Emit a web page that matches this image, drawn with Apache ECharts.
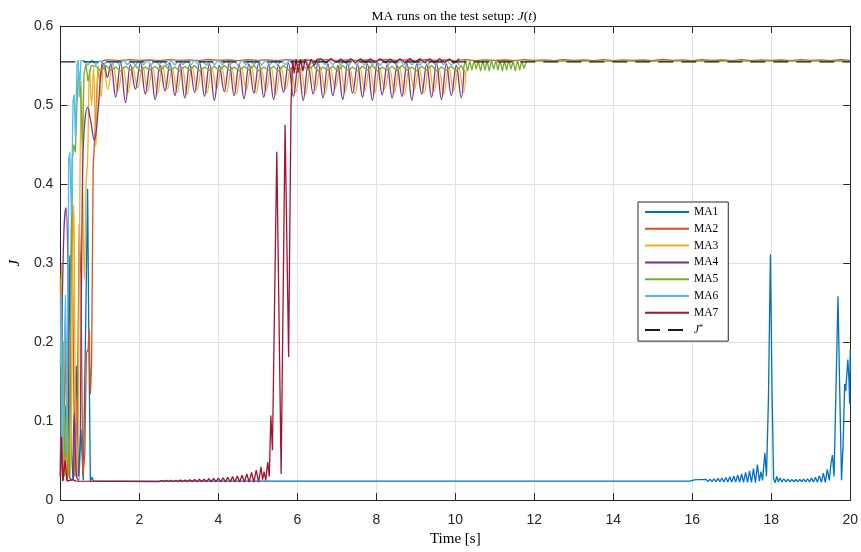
<!DOCTYPE html>
<html>
<head>
<meta charset="utf-8">
<title>MA runs on the test setup</title>
<script src="https://cdn.jsdelivr.net/npm/echarts@6/dist/echarts.min.js"></script>
<style>
  html, body { margin: 0; padding: 0; background: #ffffff; }
  #chart { width: 861px; height: 552px; }
</style>
</head>
<body>
<div id="chart"></div>
<script>
// ---- axis ticks ----
const xTicks = [0, 2, 4, 6, 8, 10, 12, 14, 16, 18, 20];
const yTicks = [0, 0.1, 0.2, 0.3, 0.4, 0.5, 0.6];

// ---- reference value J* ----
const J_STAR = 0.5546;

// ---- MA1: cost J(t) samples, [t, J] ----
const MA1_start = [[0,0.04],[0.03,0.24],[0.07,0.03],[0.12,0.12],[0.17,0.025],[0.24,0.31],[0.28,0.06],[0.33,0.025],[0.4,0.17],[0.46,0.03],[0.52,0.09],[0.58,0.025],[0.64,0.22],[0.69,0.394],[0.72,0.21],[0.76,0.024],[0.8,0.029],[0.84,0.024],[15.95,0.024]];
const MA1_ripple1 = { t0: 16.0, dt: 0.05, J: [0.024,0.0255,0.0235,0.0258,0.0235,0.026,0.0235,0.0263,0.0233,0.0266,0.0233,0.027,0.0232,0.0274,0.0232,0.028,0.023,0.0287,0.023,0.0295,0.0228,0.0305,0.0228,0.0315,0.0227,0.033,0.0226,0.035,0.0225,0.037,0.0224,0.04,0.0222,0.045,0.024] };
const MA1_spike1 = [[17.74,0.036],[17.78,0.025],[17.84,0.06],[17.88,0.03],[17.93,0.13],[17.98,0.311],[18.02,0.14],[18.06,0.027],[18.1,0.022],[18.14,0.03],[18.18,0.023]];
const MA1_ripple2 = { t0: 18.22, dt: 0.05, J: [0.028,0.023,0.027,0.023,0.0265,0.0232,0.0262,0.0232,0.026,0.0232,0.0262,0.0232,0.0265,0.023,0.027,0.023,0.0278,0.0228,0.029,0.0227,0.031,0.0225,0.034,0.0224,0.039,0.025] };
const MA1_end = [[19.51,0.045],[19.55,0.057],[19.59,0.03],[19.64,0.14],[19.69,0.258],[19.73,0.15],[19.78,0.025],[19.82,0.07],[19.86,0.147],[19.885,0.138],[19.94,0.178],[19.97,0.15],[19.985,0.122],[20,0.19]];

// ---- MA2 ----
const MA2_start = [[0,0.03],[0.04,0.13],[0.08,0.025],[0.13,0.22],[0.18,0.03],[0.24,0.12],[0.29,0.397],[0.33,0.18],[0.37,0.03],[0.43,0.12],[0.48,0.349],[0.52,0.28],[0.57,0.03],[0.62,0.06],[0.66,0.187],[0.7,0.19],[0.73,0.216],[0.76,0.134],[0.79,0.17],[0.83,0.42],[0.87,0.46],[0.91,0.5],[0.95,0.545],[1.0,0.53],[1.06,0.556],[1.15,0.5572]];
const MA2_steady = { t0: 1.25, dt: 0.25, J: [
  0.5572,0.5562,0.5575,0.5565,0.5570,0.5560,0.5574,0.5566,0.5571,0.5561,
  0.5576,0.5564,0.5570,0.5562,0.5573,0.5565,0.5571,0.5560,0.5575,0.5566,
  0.5570,0.5563,0.5574,0.5561,0.5572,0.5565,0.5570,0.5562,0.5576,0.5564,
  0.5571,0.5560,0.5573,0.5566,0.5570,0.5563,0.5575,0.5561,0.5572,0.5565,
  0.5570,0.5562,0.5574,0.5564,0.5571,0.5560,0.5573,0.5566,0.5570,0.5563,
  0.5575,0.5561,0.5572,0.5565,0.5570,0.5562,0.5576,0.5564,0.5571,0.5560,
  0.5573,0.5566,0.5570,0.5563,0.5574,0.5561,0.5572,0.5565,0.5570,0.5562,
  0.5575,0.5564,0.5571,0.5560,0.5573,0.5566] };

// ---- MA3 ----
const MA3_start = [[0,0.22],[0.03,0.3],[0.06,0.04],[0.1,0.12],[0.15,0.025],[0.21,0.15],[0.26,0.03],[0.31,0.3],[0.34,0.374],[0.38,0.12],[0.43,0.03],[0.48,0.3],[0.53,0.53],[0.57,0.38],[0.61,0.28],[0.65,0.4],[0.69,0.43],[0.74,0.545],[0.79,0.5],[0.84,0.548],[0.9,0.447],[0.96,0.55],[1.03,0.51],[1.1,0.552],[1.2,0.52],[1.33,0.552]];
const MA3_cycle = { t0: 1.46, dt: 0.125, J: [
  0.518,0.548,0.515,0.546,0.522,0.549,0.517,0.547,0.514,0.550,
  0.520,0.546,0.516,0.548,0.513,0.549,0.519,0.547,0.515,0.546,
  0.521,0.549,0.516,0.548,0.514,0.547,0.519,0.550,0.515,0.546,
  0.518,0.548,0.513,0.549,0.520,0.547,0.516,0.546,0.514,0.549,
  0.519,0.548,0.515,0.547,0.521,0.550,0.516,0.546,0.514,0.548,
  0.518,0.549,0.515,0.547,0.520,0.546,0.516,0.549,0.513,0.548,
  0.519,0.547,0.515,0.550,0.517,0.546,0.514,0.548,0.518,0.547,
  0.516] };
const MA3_end = [[10.27,0.545]];

// ---- MA4 ----
const MA4_start = [[0,0.03],[0.04,0.22],[0.09,0.34],[0.14,0.37],[0.19,0.3],[0.23,0.03],[0.29,0.025],[0.35,0.11],[0.41,0.03],[0.47,0.025],[0.53,0.25],[0.57,0.43],[0.62,0.48],[0.69,0.497],[0.76,0.482],[0.86,0.455],[0.95,0.49],[1.03,0.54],[1.1,0.553],[1.19,0.535],[1.275,0.552]];
const MA4_cycle = { t0: 1.40, dt: 0.125, J: [
  0.510,0.553,0.503,0.551,0.520,0.554,0.514,0.552,0.507,0.550,
  0.518,0.553,0.512,0.552,0.509,0.551,0.516,0.554,0.511,0.552,
  0.506,0.550,0.517,0.553,0.512,0.551,0.508,0.552,0.515,0.554,
  0.510,0.551,0.507,0.550,0.516,0.553,0.511,0.552,0.506,0.551,
  0.514,0.554,0.509,0.552,0.512,0.550,0.507,0.553,0.515,0.551,
  0.510,0.552,0.506,0.554,0.513,0.551,0.509,0.550,0.511,0.553,
  0.506,0.552,0.514,0.551,0.510,0.553,0.507,0.552,0.512,0.550,
  0.509] };
const MA4_end = [[10.22,0.545]];

// ---- MA5 ----
const MA5_start = [[0,0.28],[0.03,0.05],[0.07,0.2],[0.11,0.03],[0.17,0.12],[0.22,0.03],[0.27,0.29],[0.3,0.43],[0.34,0.45],[0.38,0.44],[0.42,0.5],[0.46,0.545],[0.51,0.52],[0.56,0.45],[0.6,0.54],[0.65,0.552],[0.7,0.53],[0.78,0.55]];
const MA5_cycle = { t0: 0.9, dt: 0.125, J: [
  0.549,0.543,0.550,0.544,0.548,0.543,0.549,0.544,0.550,0.543,
  0.548,0.544,0.549,0.543,0.550,0.544,0.548,0.543,0.549,0.544,
  0.550,0.543,0.548,0.544,0.549,0.543,0.550,0.544,0.548,0.543,
  0.549,0.544,0.550,0.543,0.548,0.544,0.549,0.543,0.550,0.544,
  0.548,0.543,0.549,0.544,0.550,0.543,0.548,0.544,0.549,0.543,
  0.550,0.544,0.548,0.543,0.549,0.544,0.550,0.543,0.548,0.544,
  0.549,0.543,0.550,0.544,0.548,0.543,0.549,0.544,0.550,0.543,
  0.548,0.544,0.549,0.543,0.550] };
const MA5_late = { t0: 10.2, dt: 0.055, J: [
  0.544,0.557,0.543,0.556,0.544,0.557,0.545,0.556,0.543,0.557,
  0.544,0.556,0.543,0.557,0.545,0.556,0.544,0.557,0.543,0.556,
  0.544,0.557,0.545,0.556,0.543,0.557,0.544,0.556,0.546] };
const MA5_end = [[11.8,0.5555],[20,0.5555]];

// ---- MA6 ----
const MA6_start = [[0,0.17],[0.02,0.26],[0.05,0.03],[0.09,0.18],[0.13,0.26],[0.17,0.06],[0.21,0.43],[0.24,0.44],[0.28,0.36],[0.32,0.505],[0.35,0.513],[0.38,0.46],[0.42,0.55],[0.45,0.557],[0.48,0.51],[0.52,0.556]];
const MA6_cycle = { t0: 0.6, dt: 0.1, J: [
  0.5565,0.5505,0.5570,0.5510,0.5562,0.5502,0.5568,0.5508,0.5565,0.5504,
  0.5570,0.5510,0.5563,0.5503,0.5567,0.5507,0.5565,0.5505,0.5569,0.5509,
  0.5562,0.5502,0.5566,0.5506,0.5570,0.5510,0.5564,0.5504,0.5567,0.5507,
  0.5563,0.5503,0.5569,0.5509,0.5565,0.5505,0.5568,0.5508,0.5562,0.5502,
  0.5566,0.5506,0.5570,0.5510,0.5564,0.5504,0.5567,0.5507,0.5563,0.5503,
  0.5569,0.5509,0.5565,0.5505,0.5568,0.5508,0.5562,0.5502,0.5566,0.5506,
  0.5570,0.5510,0.5564,0.5504,0.5567,0.5507,0.5563,0.5503,0.5569,0.5509,
  0.5565,0.5505,0.5568,0.5508,0.5562,0.5502,0.5566,0.5506,0.5570,0.5510,
  0.5564,0.5504,0.5567,0.5507,0.5563,0.5503,0.5569,0.5509,0.5565,0.5505,
  0.5568,0.5508,0.5562,0.5502,0.5566,0.5506] };

// ---- MA7 ----
const MA7_start = [[0,0.03],[0.03,0.08],[0.06,0.024],[0.12,0.05],[0.17,0.024],[0.3,0.026],[0.4,0.024],[2.44,0.0235]];
const MA7_ripple = { t0: 2.5, dt: 0.06, J: [
  0.0235,0.0248,0.0235,0.0249,0.0235,0.025,0.0235,0.0251,0.0234,0.0253,
  0.0234,0.0255,0.0234,0.0257,0.0234,0.026,0.0233,0.0263,0.0233,0.0266,
  0.0233,0.027,0.0232,0.0274,0.0232,0.0278,0.0231,0.0283,0.0231,0.029,
  0.023,0.0297,0.023,0.0305,0.0229,0.0315,0.0228,0.033,0.0227,0.035,
  0.0226,0.038,0.0228,0.042] };
const MA7_rise = [[5.12,0.026],[5.16,0.036],[5.2,0.025],[5.25,0.048],[5.29,0.03],[5.33,0.107],[5.37,0.063],[5.48,0.441],[5.59,0.033],[5.69,0.475],[5.78,0.181],[5.84,0.5],[5.88,0.557],[5.92,0.54],[5.97,0.558],[6.02,0.541],[6.08,0.558],[6.14,0.543],[6.2,0.558],[6.27,0.546],[6.35,0.558],[6.43,0.55],[6.5,0.558]];
const MA7_cycle = { t0: 6.6, dt: 0.125, J: [
  0.5585,0.5535,0.5588,0.5538,0.5583,0.5533,0.5586,0.5536,0.5584,0.5534,
  0.5587,0.5537,0.5585,0.5535,0.5583,0.5533,0.5586,0.5536,0.5588,0.5538,
  0.5584,0.5534,0.5585,0.5535,0.5587,0.5537,0.5583,0.5533,0.5586] };

// ---- build [t, J] lists from point lists and evenly sampled runs ----
function expandRun(r) {
  return r.J.map((j, i) => [Math.round((r.t0 + i * r.dt) * 10000) / 10000, j]);
}
function joinPieces(pieces) {
  const out = [];
  pieces.forEach(p => { (Array.isArray(p) ? p : expandRun(p)).forEach(pt => out.push(pt)); });
  return out;
}

const runs = [
  { name: 'MA1', color: '#0072BD', smooth: false, data: joinPieces([MA1_start, MA1_ripple1, MA1_spike1, MA1_ripple2, MA1_end]) },
  { name: 'MA2', color: '#D95319', smooth: false, data: joinPieces([MA2_start, MA2_steady]) },
  { name: 'MA3', color: '#EDB120', smooth: 0.4, data: joinPieces([MA3_start, MA3_cycle, MA3_end]) },
  { name: 'MA4', color: '#7E2F8E', smooth: 0.4, data: joinPieces([MA4_start, MA4_cycle, MA4_end]) },
  { name: 'MA5', color: '#77AC30', smooth: false, data: joinPieces([MA5_start, MA5_cycle, MA5_late, MA5_end]) },
  { name: 'MA6', color: '#4DBEEE', smooth: false, data: joinPieces([MA6_start, MA6_cycle]) },
  { name: 'MA7', color: '#A2142F', smooth: false, data: joinPieces([MA7_start, MA7_ripple, MA7_rise, MA7_cycle]) }
];

const AX = '#262626';
const GRID = '#e1e1e1';
const SANS = 'Liberation Sans, Arial, sans-serif';
const SERIF = 'Liberation Serif, Times New Roman, serif';

const series = runs.map((r, k) => ({
  name: r.name,
  type: 'line',
  data: r.data,
  smooth: r.smooth,
  symbol: 'none',
  showSymbol: false,
  animation: false,
  z: 2 + k * 0.01,
  lineStyle: { color: r.color, width: 1.3 },
  itemStyle: { color: r.color }
}));
series.push({
  name: 'J*',
  type: 'line',
  data: [[xTicks[0], J_STAR], [xTicks[xTicks.length - 1], J_STAR]],
  symbol: 'none',
  showSymbol: false,
  animation: false,
  z: 3,
  lineStyle: { color: '#1a1a1a', width: 1.4, type: [15, 8] },
  itemStyle: { color: '#1a1a1a' }
});

const xMin = xTicks[0], xMax = xTicks[xTicks.length - 1];
const yMin = yTicks[0], yMax = yTicks[yTicks.length - 1];

const baseAxis = {
  type: 'value',
  axisLine: { show: true, onZero: false, lineStyle: { color: AX, width: 1 } },
  axisTick: { show: true, inside: true, length: 7, lineStyle: { color: AX, width: 1 } }
};

const option = {
  backgroundColor: '#ffffff',
  animation: false,
  title: {
    text: '{n|MA runs on the test setup: }{i|J}{n|(}{i|t}{n|)}',
    left: 449,
    top: 4,
    textAlign: 'center',
    textStyle: {
      fontWeight: 'normal',
      rich: {
        n: { fontFamily: SERIF, fontSize: 13.5, fontWeight: 'normal', color: '#000' },
        i: { fontFamily: SERIF, fontSize: 13.5, fontWeight: 'normal', fontStyle: 'italic', color: '#000' }
      }
    }
  },
  grid: { left: 58, top: 26, width: 793, height: 476, containLabel: false },
  legend: {
    orient: 'vertical',
    left: 638,
    top: 202,
    padding: [4, 10, 5, 6],
    itemWidth: 44,
    itemHeight: 10,
    itemGap: 4.8,
    borderColor: AX,
    borderWidth: 1,
    backgroundColor: '#ffffff',
    itemStyle: { opacity: 0, borderWidth: 0 },
    data: ['MA1', 'MA2', 'MA3', 'MA4', 'MA5', 'MA6', 'MA7', 'J*'],
    formatter: n => n === 'J*' ? '{i|J}{s|*}' : n,
    textStyle: {
      fontFamily: SERIF, fontSize: 11.5, color: '#000',
      rich: {
        i: { fontFamily: SERIF, fontSize: 11.5, fontStyle: 'italic', color: '#000' },
        s: { fontFamily: SERIF, fontSize: 8, color: '#000', verticalAlign: 'top', padding: [0, 0, 5, 0] }
      }
    }
  },
  xAxis: [
    Object.assign({}, baseAxis, {
      min: xMin, max: xMax, interval: 2, position: 'bottom',
      name: 'Time [s]', nameLocation: 'middle', nameGap: 26,
      nameTextStyle: { fontFamily: SERIF, fontSize: 15, color: '#000' },
      axisLabel: { fontFamily: SANS, fontSize: 14, color: AX, margin: 13 },
      splitLine: { show: true, lineStyle: { color: GRID, width: 1 } }
    }),
    Object.assign({}, baseAxis, {
      min: xMin, max: xMax, interval: 2, position: 'top',
      axisLabel: { show: false }, splitLine: { show: false }
    })
  ],
  yAxis: [
    Object.assign({}, baseAxis, {
      min: yMin, max: yMax, interval: 0.1, position: 'left',
      name: 'J', nameLocation: 'middle', nameGap: 37, nameRotate: 90,
      nameTextStyle: { fontFamily: SERIF, fontSize: 15, fontStyle: 'italic', color: '#000' },
      axisLabel: { fontFamily: SANS, fontSize: 14, color: AX, margin: 7 },
      splitLine: { show: true, lineStyle: { color: GRID, width: 1 } }
    }),
    Object.assign({}, baseAxis, {
      min: yMin, max: yMax, interval: 0.1, position: 'right',
      axisLabel: { show: false }, splitLine: { show: false }
    })
  ],
  series: series
};

const chart = echarts.init(document.getElementById('chart'), null, { renderer: 'canvas' });
chart.setOption(option);
</script>
</body>
</html>
